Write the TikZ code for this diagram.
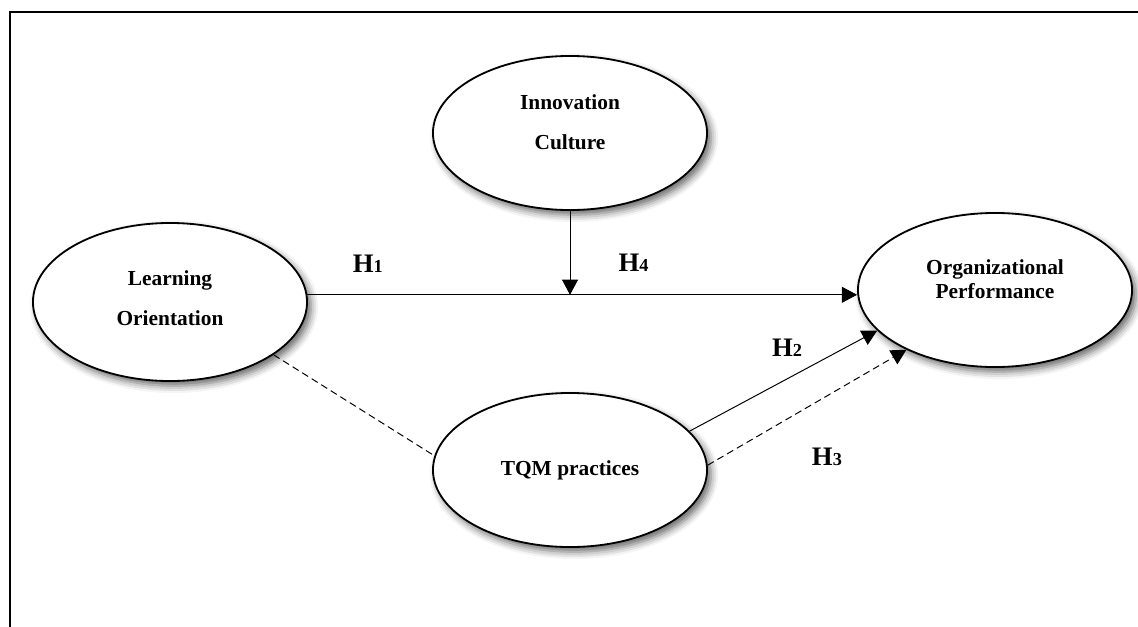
\documentclass[tikz,border=0pt]{standalone}
\usepackage{fontspec}
\setmainfont{Liberation Serif}
\usetikzlibrary{shapes.geometric, arrows.meta, shadows.blur, positioning}
\tikzset{
  construct/.style={draw, ellipse, line width=1.3pt, fill=white, inner sep=0pt,
    minimum width=6.85cm, minimum height=3.85cm, align=center,
    font=\fontsize{15.2}{28}\selectfont\bfseries,
    blur shadow={shadow xshift=0.1cm, shadow yshift=-0.12cm, shadow blur radius=0.18cm, shadow opacity=60}},
  hyp/.style={font=\fontsize{19}{19}\selectfont\bfseries, inner sep=0pt},
  link/.style={line width=0.7pt},
  dashlink/.style={line width=0.7pt, dash pattern=on 5pt off 3pt},
}
\newcommand{\hyplabel}[1]{H{\fontsize{13}{13}\selectfont #1}}
\begin{document}
\begin{tikzpicture}[x=0.025cm, y=-0.025cm, >={Triangle[length=0.38cm, width=0.4cm]}]
\useasboundingbox (0,0) rectangle (1138,626);
\clip (0,0) rectangle (1138,626);
\draw[line width=1.6pt] (10,12) rectangle (1170,660);
\node[construct, text depth=15.6pt] (ic) at (570,133) {Innovation\\Culture};
\node[construct, minimum height=3.95cm, text depth=5.6pt] (lo) at (170,302) {Learning\\Orientation};
\node[construct, font=\fontsize{15.2}{17}\selectfont\bfseries, text depth=15.6pt] (op) at (995,290) {Organizational\\Performance};
\node[construct] (tqm) at (570,470) {TQM practices};
\coordinate (join) at (ic.south |- lo.3);
\path[->, link] (lo.3) edge node[hyp, pos=0.11, above=0.55cm] {\hyplabel{1}} (lo.3 -| op.west);
\path[->, link] (ic.south) edge node[hyp, pos=0.62, right=1.2cm] {\hyplabel{4}} (join);
\path[->, link] (tqm.18) edge node[hyp, pos=0.52, above=0.55cm] {\hyplabel{2}} (op.199);
\path[->, dashlink] (tqm.2) edge node[hyp, pos=0.6, below=1.3cm] {\hyplabel{3}} (op.214);
\path[dashlink] (lo.-27) edge (tqm.174);
\end{tikzpicture}
\end{document}
